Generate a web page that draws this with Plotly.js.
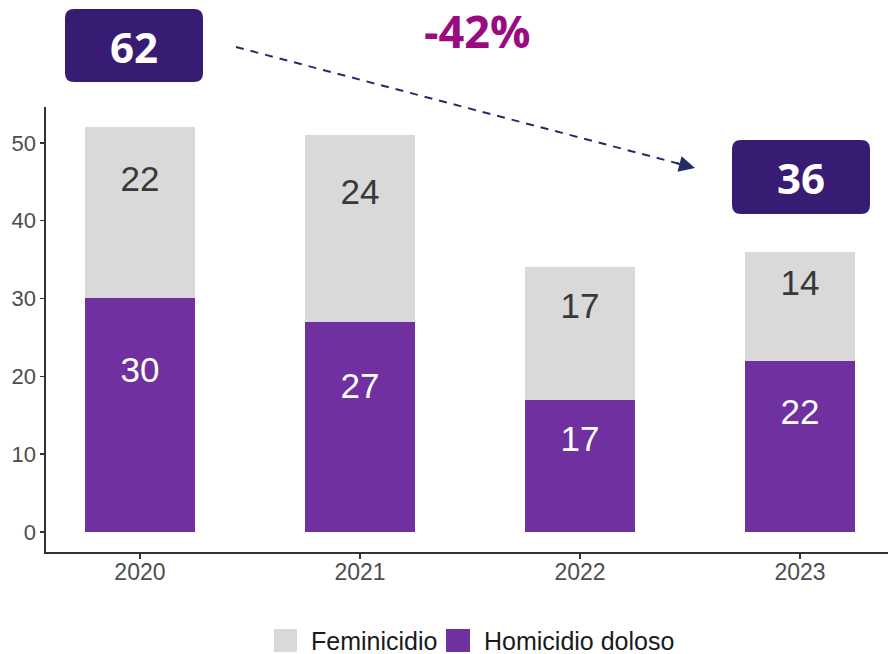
<!DOCTYPE html>
<html>
<head>
<meta charset="utf-8">
<script src="https://cdn.plot.ly/plotly-3.0.1.min.js"></script>
<style>html,body{margin:0;padding:0;background:#fff;}#chart{width:888px;height:654px;}</style>
</head>
<body>
<div id="chart"></div>
<script>
const years = ['2020', '2021', '2022', '2023'];
const homicidio = [30, 27, 17, 22];
const feminicidio = [22, 24, 17, 14];
const seriesNames = ['Homicidio doloso', 'Feminicidio'];
const totalStart = '62';
const totalEnd = '36';
const changeLabel = '-42%';
const yTicks = [0, 10, 20, 30, 40, 50];

const purple = '#7030A0';
const gray = '#D9D9D9';
const boxColor = '#381B72';
const labelFont = 'Liberation Sans, Arial, sans-serif';

const W = 888, H = 654;
const m = {l: 46, r: 0, t: 107, b: 102, autoexpand: false};
const pw = W - m.l - m.r, ph = H - m.t - m.b;
const px = x => (x - m.l) / pw;
const py = y => (H - m.b - y) / ph;

const vjust = 0.68;
const traces = [
  {type: 'bar', name: seriesNames[0], x: years, y: homicidio, marker: {color: purple}, width: 0.5,
   hoverinfo: 'none', showlegend: false},
  {type: 'bar', name: seriesNames[1], x: years, y: feminicidio, marker: {color: gray}, width: 0.5,
   hoverinfo: 'none', showlegend: false},
  {type: 'scatter', mode: 'text', x: years, y: homicidio.map(v => v * vjust),
   text: homicidio.map(String), textfont: {family: labelFont, size: 35, color: '#FFFFFF'},
   textposition: 'middle center', hoverinfo: 'none', showlegend: false, cliponaxis: false},
  {type: 'scatter', mode: 'text', x: years, y: feminicidio.map((v, i) => homicidio[i] + v * vjust),
   text: feminicidio.map(String), textfont: {family: labelFont, size: 35, color: '#383838'},
   textposition: 'middle center', hoverinfo: 'none', showlegend: false, cliponaxis: false}
];

const annotations = [];
const boxFont = {family: 'Open Sans, sans-serif', size: 42, color: '#FFFFFF'};
annotations.push({x: px(134), y: py(46), xref: 'paper', yref: 'paper', text: '<b>' + totalStart + '</b>',
  showarrow: false, font: boxFont, xanchor: 'center', yanchor: 'middle'});
annotations.push({x: px(801), y: py(177), xref: 'paper', yref: 'paper', text: '<b>' + totalEnd + '</b>',
  showarrow: false, font: boxFont, xanchor: 'center', yanchor: 'middle'});
annotations.push({x: px(477), y: py(31), xref: 'paper', yref: 'paper', text: '<b>' + changeLabel + '</b>',
  showarrow: false, font: {family: 'Open Sans, sans-serif', size: 45, color: '#9B0A80'},
  xanchor: 'center', yanchor: 'middle'});
// arrowhead
annotations.push({x: px(695), y: py(168), xref: 'paper', yref: 'paper', text: '', showarrow: true,
  ax: -20, ay: -5.3, arrowhead: 2, arrowsize: 1.6, arrowwidth: 2, arrowcolor: '#1F2F66', standoff: 0});

// manual legend (Feminicidio first, then Homicidio doloso)
const legendItems = [
  {name: seriesNames[1], color: gray, sq: [274, 297], tx: 309},
  {name: seriesNames[0], color: purple, sq: [446, 470], tx: 482}
];
legendItems.forEach(it => {
  annotations.push({x: px(it.tx), y: py(641), xref: 'paper', yref: 'paper', text: it.name,
    showarrow: false, xanchor: 'left', yanchor: 'middle',
    font: {family: labelFont, size: 25, color: '#1A1A1A'}});
});

function roundRect(x0, y0, x1, y1, r) {
  const rx = r / pw, ry = r / ph;
  const a = px(x0), b = px(x1), top = py(y0), bot = py(y1);
  return `M${a + rx},${top} L${b - rx},${top} Q${b},${top} ${b},${top - ry} L${b},${bot + ry} Q${b},${bot} ${b - rx},${bot} ` +
         `L${a + rx},${bot} Q${a},${bot} ${a},${bot + ry} L${a},${top - ry} Q${a},${top} ${a + rx},${top} Z`;
}

const shapes = [
  {type: 'path', xref: 'paper', yref: 'paper', path: roundRect(65, 9, 203, 82, 9),
   fillcolor: boxColor, line: {width: 0}, layer: 'above'},
  {type: 'path', xref: 'paper', yref: 'paper', path: roundRect(732, 140, 870, 214, 9),
   fillcolor: boxColor, line: {width: 0}, layer: 'above'},
  {type: 'line', xref: 'paper', yref: 'paper', x0: px(236), y0: py(47), x1: px(682), y1: py(164.5),
   line: {color: '#1F2F66', width: 2, dash: '8px,7px'}}
];
legendItems.forEach(it => {
  shapes.push({type: 'rect', xref: 'paper', yref: 'paper', x0: px(it.sq[0]), x1: px(it.sq[1]),
    y0: py(652), y1: py(629), fillcolor: it.color, line: {width: 0}});
});

const layout = {
  width: W, height: H,
  margin: m,
  paper_bgcolor: '#FFFFFF', plot_bgcolor: '#FFFFFF',
  barmode: 'stack',
  showlegend: false,
  xaxis: {type: 'category', range: [-0.427, 3.4], showline: true, linecolor: '#333333', linewidth: 1.6,
    ticks: 'outside', ticklen: 5, tickcolor: '#333333', tickwidth: 1.4, showgrid: false, zeroline: false,
    ticklabelstandoff: -6,
    tickfont: {family: labelFont, size: 23, color: '#4D4D4D'}, fixedrange: true},
  yaxis: {range: [-2.57, 54.6], tickvals: yTicks, showline: true, linecolor: '#333333', linewidth: 1.6,
    ticks: 'outside', ticklen: 4, tickcolor: '#333333', tickwidth: 1.4, showgrid: false, zeroline: false,
    tickfont: {family: labelFont, size: 22, color: '#4D4D4D'}, fixedrange: true},
  annotations: annotations,
  shapes: shapes
};

Plotly.newPlot('chart', traces, layout, {displayModeBar: false, staticPlot: true});
</script>
</body>
</html>
